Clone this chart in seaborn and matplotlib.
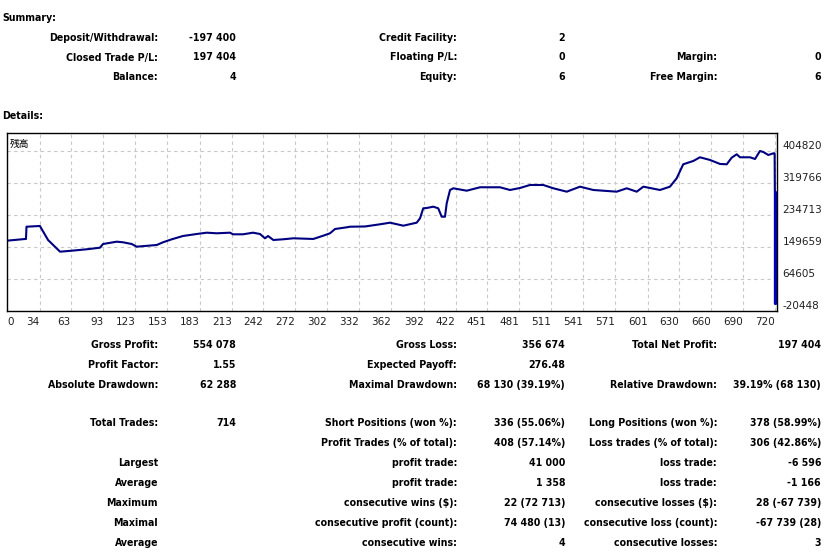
import numpy as np
import pandas as pd
import seaborn as sns
import matplotlib
matplotlib.use("Agg")
import matplotlib.pyplot as plt

# balance curve (trade number, balance)
trade_no = [0, 20, 21, 21.5, 34, 41.6, 52.8, 63.7, 77.7, 90, 92.9, 105.7, 111.5, 119.7,
            124.3, 143, 148.9, 157, 167.5, 180.3, 189.6, 199, 211.4, 214.2, 223.5, 232.8,
            239.4, 244, 246.9, 251.8, 260.8, 270.5, 289.1, 298.4, 304.7, 309.4, 320.3,
            323.4, 337.3, 351.3, 360.7, 373.1, 385.6, 388.7, 391.7, 394.9, 401.1, 405.7,
            408.9, 412, 413.6, 416.7, 419.8, 432.3, 444.7, 463.3, 472.7, 482, 491.3,
            503.7, 513.1, 525.6, 538, 550.4, 572.2, 581.6, 590.9, 597.1, 612.6, 621.9,
            628.2, 634.3, 643.7, 649.9, 659.3, 668.6, 674.9, 679.5, 684.2, 687.3, 696.6,
            701.3, 705.9, 709, 713.7, 718.4, 719.6, 719.8]
balance = [165600, 170900, 170900, 203600, 205500, 168300, 137200, 139800, 143600, 147800,
           157600, 163800, 162200, 157600, 150500, 155000, 162200, 170100, 178900, 184200,
           187700, 186100, 187700, 183400, 183400, 187700, 184200, 172800, 178900, 168300,
           170100, 172800, 171000, 179700, 186100, 197500, 202000, 203600, 204200, 210000,
           214300, 206300, 214300, 225900, 252500, 253300, 256800, 252500, 230200, 230200,
           265800, 301200, 305700, 299300, 308400, 308400, 301200, 306500, 314500, 314500,
           305700, 296700, 310000, 301200, 296700, 305700, 296700, 310000, 301200, 310000,
           332300, 369500, 378300, 388100, 381000, 370400, 369500, 387000, 396100, 388100,
           388100, 383600, 404800, 402200, 394200, 398700, 398700, 296700]

# closing withdrawals at the end of the history
withdraw_trade = [720.3, 720.3]
withdraw_balance = [296700, 4]

x_labels = ["0", "34", "63", "93", "123", "153", "183", "213", "242", "272", "302", "332",
            "362", "392", "422", "451", "481", "511", "541", "571", "601", "630", "660",
            "690", "720"]
y_ticks = [404820, 319766, 234713, 149659, 64605, -20448]

summary_rows = [
    ["Deposit/Withdrawal:", "-197 400", "Credit Facility:", "2", "", ""],
    ["Closed Trade P/L:", "197 404", "Floating P/L:", "0", "Margin:", "0"],
    ["Balance:", "4", "Equity:", "6", "Free Margin:", "6"],
]
detail_rows = [
    ["Gross Profit:", "554 078", "Gross Loss:", "356 674", "Total Net Profit:", "197 404"],
    ["Profit Factor:", "1.55", "Expected Payoff:", "276.48", "", ""],
    ["Absolute Drawdown:", "62 288", "Maximal Drawdown:", "68 130 (39.19%)",
     "Relative Drawdown:", "39.19% (68 130)"],
    None,
    ["Total Trades:", "714", "Short Positions (won %):", "336 (55.06%)",
     "Long Positions (won %):", "378 (58.99%)"],
    ["", "", "Profit Trades (% of total):", "408 (57.14%)",
     "Loss trades (% of total):", "306 (42.86%)"],
    ["Largest", "", "profit trade:", "41 000", "loss trade:", "-6 596"],
    ["Average", "", "profit trade:", "1 358", "loss trade:", "-1 166"],
    ["Maximum", "", "consecutive wins ($):", "22 (72 713)",
     "consecutive losses ($):", "28 (-67 739)"],
    ["Maximal", "", "consecutive profit (count):", "74 480 (13)",
     "consecutive loss (count):", "-67 739 (28)"],
    ["Average", "", "consecutive wins:", "4", "consecutive losses:", "3"],
]

sns.set_style("white")
plt.rcParams["font.family"] = ["DejaVu Sans"]

W, H = 838, 552
fig = plt.figure(figsize=(W / 100, H / 100), dpi=100)

TXT = dict(fontsize=7.6, fontweight="bold", color="black", va="center",
           fontstretch="condensed")


def put(x, y, s, ha="right"):
    if s:
        fig.text(x / W, 1 - y / H, s, ha=ha, **TXT)


col_right = [158, 236, 457, 565, 717, 821]

put(2, 18, "Summary:", ha="left")
for i, row in enumerate(summary_rows):
    y = 38 + i * 19.5
    for c, s in enumerate(row):
        put(col_right[c], y, s)

put(2, 116, "Details:", ha="left")
y = 345
for row in detail_rows:
    if row is None:
        y += 18
        continue
    for c, s in enumerate(row):
        put(col_right[c], y, s)
    y += 20

# chart
left, top, right, bottom = 7, 133, 777, 311
ax = fig.add_axes([left / W, 1 - bottom / H, (right - left) / W, (bottom - top) / H])

x0 = 3.3
step = 29.86
ax.set_xlim(x0, x0 + step * (24 + 2 / 32))
ymin = y_ticks[-1]
ystep = (y_ticks[0] - y_ticks[-1]) / 5
ax.set_ylim(ymin, ymin + ystep * (bottom - top) / 32)

df = pd.DataFrame({"trade": trade_no, "balance": balance})
sns.lineplot(data=df, x="trade", y="balance", ax=ax, color="#000080", lw=1.5,
             estimator=None, sort=False)
sns.lineplot(x=withdraw_trade, y=withdraw_balance, ax=ax, color="#0000c0", lw=2.4,
             estimator=None, sort=False)

xt = [x0] + [float(v) for v in x_labels[1:]]
ax.set_xticks(xt)
ax.set_xticklabels(x_labels)
for i, lab in enumerate(ax.get_xticklabels()):
    lab.set_ha("left" if i == 0 else "right")
ax.set_yticks(y_ticks)
ax.set_yticklabels([str(v) for v in y_ticks])
ax.yaxis.tick_right()
ax.tick_params(axis="both", length=0, labelsize=7.5, colors="#202020")
ax.tick_params(axis="x", pad=4)
ax.tick_params(axis="y", pad=4)
for lab in ax.get_yticklabels():
    lab.set_va("bottom")

ax.grid(True, color="#c8c8c8", linestyle=(0, (3, 3)), lw=0.8)
ax.set_xlabel("")
ax.set_ylabel("")
for sp in ax.spines.values():
    sp.set_color("black")
    sp.set_linewidth(1.0)

ax.text(0.004, 0.965, "残高", transform=ax.transAxes, ha="left", va="top",
        fontsize=7, family=["Noto Sans CJK JP", "DejaVu Sans"], color="black")

fig.savefig("out.png", dpi=100)
